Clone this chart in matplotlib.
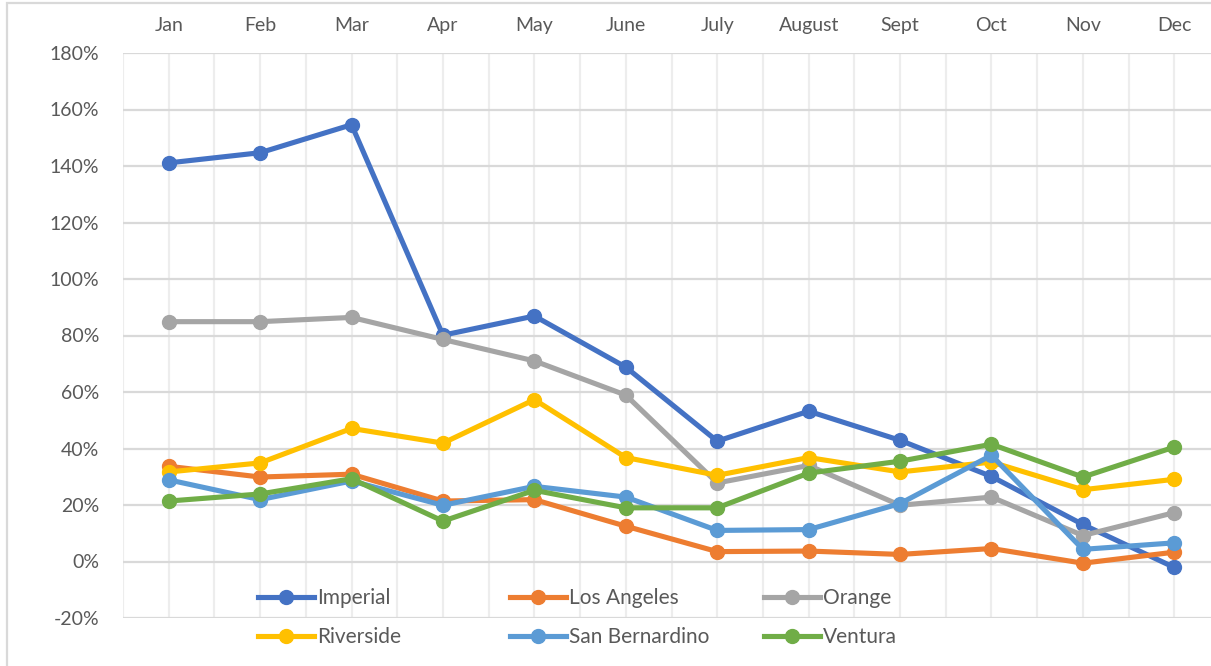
import matplotlib.pyplot as plt
from matplotlib.patches import Rectangle
from matplotlib.lines import Line2D
from matplotlib.ticker import FixedLocator

plt.rcParams['font.family'] = ['Lato', 'DejaVu Sans']

months = ['Jan', 'Feb', 'Mar', 'Apr', 'May', 'June', 'July', 'August', 'Sept', 'Oct', 'Nov', 'Dec']

imperial = [141.1, 144.7, 154.6, 80.1, 86.9, 68.8, 42.6, 53.2, 42.9, 30.1, 13.1, -2.1]
los_angeles = [33.7, 29.9, 30.9, 21.4, 21.9, 12.5, 3.5, 3.7, 2.5, 4.6, -0.6, 3.3]
orange = [84.9, 84.9, 86.4, 78.6, 71.0, 58.9, 27.8, 34.0, 19.9, 22.8, 9.2, 17.3]
riverside = [31.7, 34.9, 47.1, 41.9, 57.3, 36.8, 30.5, 36.8, 31.7, 35.2, 25.4, 29.1]
san_bernardino = [28.9, 21.9, 28.5, 19.9, 26.6, 22.8, 11.0, 11.3, 20.5, 37.6, 4.3, 6.6]
ventura = [21.4, 23.9, 29.3, 14.3, 25.2, 19.0, 19.0, 31.3, 35.5, 41.5, 29.9, 40.5]

series = [
    ('Imperial', imperial, '#4472C4'),
    ('Los Angeles', los_angeles, '#ED7D31'),
    ('Orange', orange, '#A5A5A5'),
    ('Riverside', riverside, '#FFC000'),
    ('San Bernardino', san_bernardino, '#5B9BD5'),
    ('Ventura', ventura, '#70AD47'),
]

W, H = 1211, 666
fig = plt.figure(figsize=(W / 100, H / 100), dpi=100)
ax = fig.add_axes([123 / W, 1 - 618 / H, (1220 - 123) / W, (618 - 53) / H])

x = list(range(len(months)))
for name, vals, color in series:
    ax.plot(x, vals, color=color, linewidth=3.7, marker='o', markersize=10,
            solid_capstyle='round', label=name, zorder=3)

ax.set_xlim(-0.5, 11.5)
ax.set_ylim(-20, 180)
ax.set_yticks(range(-20, 181, 20))
ax.set_yticklabels([f'{v}%' for v in range(-20, 181, 20)])
ax.set_xticks(x)
ax.set_xticklabels(months)
ax.xaxis.set_minor_locator(FixedLocator([i - 0.5 for i in range(13)]))
ax.xaxis.tick_top()
ax.tick_params(axis='both', which='both', length=0, labelsize=14, labelcolor='#595959')
ax.tick_params(axis='y', pad=17)
ax.tick_params(axis='x', pad=14)

ax.grid(axis='y', which='major', color='#D9D9D9', linewidth=1.6, zorder=0)
ax.grid(axis='x', which='both', color='#EDEDED', linewidth=1.6, zorder=0)
ax.set_axisbelow(True)
for s in ax.spines.values():
    s.set_visible(False)

# outer chart border
fig.patches.append(Rectangle((7 / W, -0.1), 1.2, 1.1 - 3 / H, transform=fig.transFigure,
                             fill=False, edgecolor='#D9D9D9', linewidth=1.6))

# legend: three columns, two rows
cols = [(0, 3), (1, 4), (2, 5)]
starts = [258, 510, 764]
for (a, b), xs in zip(cols, starts):
    handles = []
    for i in (a, b):
        name, vals, color = series[i]
        handles.append(Line2D([], [], color=color, linewidth=3.7, marker='o', markersize=10))
    labels = [series[a][0], series[b][0]]
    leg = fig.legend(handles, labels, loc='upper left', bbox_to_anchor=(xs / W, 1 - 588 / H),
                     frameon=False, fontsize=15, labelcolor='#595959', handlelength=2.7,
                     handletextpad=0.15, labelspacing=0.93, borderpad=0, borderaxespad=0)

fig.savefig('out.png', dpi=100)
